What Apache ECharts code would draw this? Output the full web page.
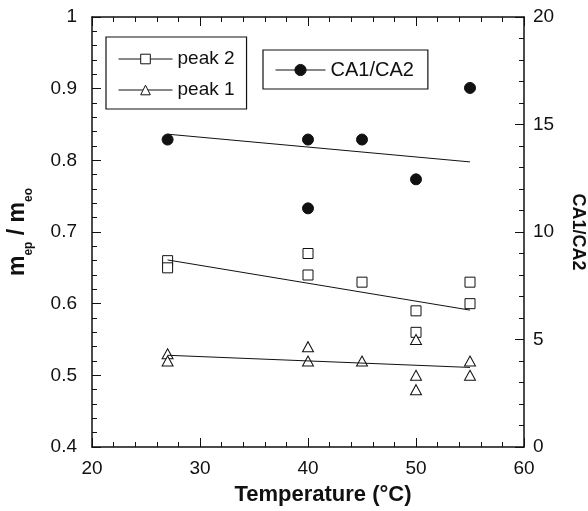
<!DOCTYPE html>
<html>
<head>
<meta charset="utf-8">
<script src="https://cdn.jsdelivr.net/npm/echarts@6/dist/echarts.min.js"></script>
<style>
  html, body { margin: 0; padding: 0; background: #fff; }
  #chart { width: 588px; height: 511px; }
</style>
</head>
<body>
<div id="chart"></div>
<script>
// measured points
const peak2X = [27, 27, 40, 40, 45, 50, 50, 55, 55]
const peak2Y = [0.66, 0.65, 0.67, 0.64, 0.63, 0.59, 0.56, 0.63, 0.60]
const peak1X = [27, 27, 40, 40, 45, 50, 50, 50, 55, 55]
const peak1Y = [0.53, 0.52, 0.54, 0.52, 0.52, 0.55, 0.50, 0.48, 0.52, 0.50]
const caX = [27, 40, 40, 45, 50, 55]
const caY = [14.3, 14.3, 11.1, 14.3, 12.45, 16.7]

// fitted lines (end points)
const fitX = [27, 55]
const peak2Fit = [0.661, 0.591]
const peak1Fit = [0.528, 0.511]
const caFit = [14.55, 13.26]

const ink = '#111'
const font = 'Liberation Sans, Arial, sans-serif'
const pairs = (xs, ys) => xs.map((x, i) => [x, ys[i]])

const hollow = { color: '#fff', borderColor: ink, borderWidth: 1, opacity: 1 }
const solid = { color: ink, borderColor: ink, borderWidth: 1, opacity: 1 }

const chart = echarts.init(document.getElementById('chart'))

const axisCommon = {
  axisLine: { show: true, lineStyle: { color: ink, width: 1.5 } },
  axisTick: { show: true, inside: true, length: 9, lineStyle: { color: ink, width: 1 } },
  minorTick: { show: true, splitNumber: 5, length: 5, lineStyle: { color: ink, width: 1 } },
  splitLine: { show: false },
  minorSplitLine: { show: false }
}

chart.setOption({
  animation: false,
  backgroundColor: '#fff',
  grid: { left: 92, right: 64, top: 17, bottom: 64, outerBoundsMode: 'none' },
  legend: [
    {
      data: ['peak 2', 'peak 1'],
      orient: 'vertical',
      left: 106, top: 37,
      padding: [12, 12, 9, 12],
      itemGap: 11,
      itemWidth: 54, itemHeight: 12,
      borderColor: ink, borderWidth: 1.2, borderRadius: 0,
      selectedMode: false,
      textStyle: { color: ink, fontSize: 19, fontFamily: font, lineHeight: 20 },
      itemStyle: { borderWidth: 1, borderColor: ink },
      lineStyle: { width: 1, color: ink, opacity: 1 }
    },
    {
      data: ['CA1/CA2'],
      left: 263, top: 50,
      padding: [10, 14, 9, 12],
      itemWidth: 50, itemHeight: 14,
      borderColor: ink, borderWidth: 1.2, borderRadius: 0,
      selectedMode: false,
      textStyle: { color: ink, fontSize: 20, fontFamily: font, lineHeight: 20 },
      itemStyle: { borderWidth: 1, borderColor: ink },
      lineStyle: { width: 1, color: ink, opacity: 1 }
    }
  ],
  xAxis: [
    {
      ...axisCommon,
      type: 'value', position: 'bottom',
      min: 20, max: 60, interval: 10,
      name: 'Temperature (°C)',
      nameLocation: 'middle', nameGap: 37,
      nameTextStyle: { color: ink, fontSize: 22, fontWeight: 'bold', fontFamily: font, padding: [0, 0, 0, 30] },
      axisLabel: { color: ink, fontSize: 19, fontFamily: font, margin: 12 }
    },
    {
      ...axisCommon,
      type: 'value', position: 'top',
      min: 20, max: 60, interval: 10,
      axisLabel: { show: false }
    }
  ],
  yAxis: [
    {
      ...axisCommon,
      type: 'value', position: 'left',
      min: 0.4, max: 1, interval: 0.1,
      name: '{m|m}{s|ep}{m| / m}{s|eo}',
      nameLocation: 'middle', nameRotate: 90, nameGap: 57,
      nameTextStyle: {
        color: ink, fontFamily: font,
        rich: {
          m: { fontSize: 23, fontWeight: 'bold', fontFamily: font, color: ink, lineHeight: 34 },
          s: { fontSize: 12, fontWeight: 'bold', fontFamily: font, color: ink, lineHeight: 10, verticalAlign: 'bottom' }
        }
      },
      axisLabel: { color: ink, fontSize: 19, fontFamily: font, margin: 15 }
    },
    {
      ...axisCommon,
      type: 'value', position: 'right',
      min: 0, max: 20, interval: 5,
      name: 'CA1/CA2',
      nameLocation: 'middle', nameRotate: -90, nameGap: 45,
      nameTextStyle: { color: ink, fontSize: 18, fontWeight: 'bold', fontFamily: font },
      axisLabel: { color: ink, fontSize: 19, fontFamily: font, margin: 9 }
    }
  ],
  series: [
    {
      name: 'peak 2', type: 'line',
      data: pairs(fitX, peak2Fit),
      symbol: 'rect', symbolSize: 10, showSymbol: false,
      itemStyle: hollow, lineStyle: { color: ink, width: 1 },
      silent: true
    },
    {
      name: 'peak 1', type: 'line',
      data: pairs(fitX, peak1Fit),
      symbol: 'triangle', symbolSize: 11, showSymbol: false,
      itemStyle: hollow, lineStyle: { color: ink, width: 1 },
      silent: true
    },
    {
      name: 'CA1/CA2', type: 'line', yAxisIndex: 1,
      data: pairs(fitX, caFit),
      symbol: 'circle', symbolSize: 11, showSymbol: false,
      itemStyle: solid, lineStyle: { color: ink, width: 1 },
      silent: true
    },
    {
      name: 'peak 2', type: 'scatter',
      data: pairs(peak2X, peak2Y),
      symbol: 'rect', symbolSize: 10,
      itemStyle: hollow
    },
    {
      name: 'peak 1', type: 'scatter',
      data: pairs(peak1X, peak1Y),
      symbol: 'triangle', symbolSize: [11, 10],
      itemStyle: hollow
    },
    {
      name: 'CA1/CA2', type: 'scatter', yAxisIndex: 1,
      data: pairs(caX, caY),
      symbol: 'circle', symbolSize: 11,
      itemStyle: solid
    }
  ]
})
</script>
</body>
</html>
